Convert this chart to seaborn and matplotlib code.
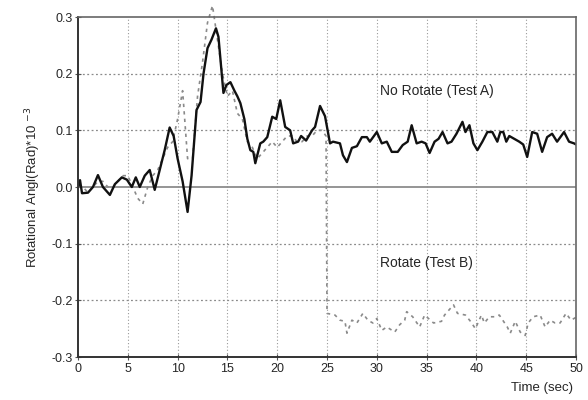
import numpy as np
import pandas as pd
import matplotlib
matplotlib.use("Agg")
import matplotlib.pyplot as plt
import seaborn as sns

# Test A: no rotation
time_a = [
    0.0, 0.2, 0.4, 1.0, 1.5, 2.0, 2.5, 3.2, 3.7, 4.4,
    4.9, 5.4, 5.8, 6.2, 6.7, 7.2, 7.7, 8.2, 8.7, 9.2,
    9.6, 10.0, 10.5, 11.0, 11.4, 11.9, 12.3, 12.6, 13.0, 13.4,
    13.85, 14.1, 14.6, 14.9, 15.3, 15.7, 16.0, 16.3, 16.7, 17.0,
    17.3, 17.6, 17.8, 18.3, 18.6, 19.0, 19.5, 19.9, 20.3, 20.8,
    21.3, 21.6, 22.1, 22.4, 22.9, 23.5, 23.8, 24.3, 24.8, 25.3,
    25.6, 26.3, 26.6, 27.0, 27.5, 28.0, 28.5, 29.0, 29.3, 30.0,
    30.5, 31.0, 31.5, 32.1, 32.6, 33.1, 33.5, 34.0, 34.5, 34.9,
    35.3, 35.8, 36.2, 36.6, 37.1, 37.5, 38.0, 38.6, 38.9, 39.3,
    39.7, 40.1, 40.6, 41.1, 41.6, 42.1, 42.4, 42.7, 43.0, 43.3,
    43.8, 44.3, 44.7, 45.1, 45.6, 46.1, 46.6, 47.1, 47.6, 48.1,
    48.8, 49.3, 49.8, 50.0,
]
angle_a = [
    0.00, 0.012, -0.011, -0.01, 0.00, 0.021, 0.00, -0.014, 0.005, 0.017,
    0.013, 0.00, 0.017, 0.00, 0.02, 0.03, -0.005, 0.03, 0.065, 0.105,
    0.09, 0.05, 0.01, -0.044, 0.02, 0.136, 0.15, 0.20, 0.245, 0.26,
    0.28, 0.265, 0.166, 0.18, 0.185, 0.17, 0.16, 0.148, 0.12, 0.085,
    0.065, 0.062, 0.042, 0.077, 0.08, 0.088, 0.124, 0.12, 0.153, 0.106,
    0.10, 0.077, 0.08, 0.09, 0.082, 0.10, 0.106, 0.143, 0.125, 0.077,
    0.08, 0.077, 0.056, 0.044, 0.069, 0.072, 0.088, 0.088, 0.08, 0.097,
    0.077, 0.08, 0.062, 0.062, 0.074, 0.08, 0.109, 0.077, 0.08, 0.077,
    0.06, 0.08, 0.085, 0.097, 0.077, 0.08, 0.094, 0.115, 0.097, 0.109,
    0.077, 0.065, 0.08, 0.097, 0.097, 0.08, 0.097, 0.097, 0.08, 0.09,
    0.085, 0.08, 0.075, 0.053, 0.097, 0.094, 0.062, 0.088, 0.094, 0.08,
    0.097, 0.08, 0.077, 0.075,
]

# Test B: rotation starts at 25 s
time_b = [
    0.0, 0.5, 1.0, 1.5, 2.0, 2.5, 3.0, 3.5, 4.0, 4.5,
    5.0, 5.5, 6.0, 6.5, 7.0, 7.5, 8.0, 8.5, 9.0, 9.5,
    10.0, 10.5, 11.0, 11.5, 12.0, 12.5, 13.0, 13.5, 14.0, 14.5,
    15.0, 15.5, 16.0, 16.5, 17.0, 17.5, 18.0, 18.5, 19.0, 19.5,
    20.0, 20.5, 21.0, 21.5, 22.0, 22.5, 23.0, 23.5, 24.0, 24.5,
    24.9, 25.0, 25.8, 26.3, 26.8, 27.0, 27.5, 28.0, 28.6, 29.1,
    29.6, 30.0, 30.5, 31.0, 31.8, 32.3, 32.8, 33.0, 33.6, 34.3,
    34.8, 35.7, 36.5, 36.8, 37.7, 38.1, 38.9, 39.4, 39.9, 40.5,
    40.8, 41.3, 41.8, 42.3, 43.1, 43.4, 43.9, 44.4, 44.9, 45.2,
    45.7, 46.4, 46.9, 47.4, 47.9, 48.4, 49.0, 49.5, 50.0,
]
angle_b = [
    0.00, 0.00, -0.01, 0.00, 0.01, 0.01, 0.00, 0.00, 0.01, 0.02,
    0.02, 0.00, -0.02, -0.03, 0.00, 0.02, 0.03, 0.05, 0.07, 0.08,
    0.12, 0.17, 0.05, 0.05, 0.16, 0.22, 0.29, 0.32, 0.26, 0.20,
    0.16, 0.17, 0.13, 0.12, 0.08, 0.07, 0.05, 0.06, 0.07, 0.08,
    0.07, 0.08, 0.09, 0.09, 0.08, 0.08, 0.09, 0.09, 0.10, 0.10,
    0.09, -0.223, -0.226, -0.235, -0.237, -0.258, -0.235, -0.24, -0.223, -0.235,
    -0.24, -0.232, -0.253, -0.247, -0.256, -0.243, -0.235, -0.22, -0.229, -0.247,
    -0.226, -0.24, -0.237, -0.226, -0.208, -0.223, -0.226, -0.237, -0.25, -0.226,
    -0.24, -0.229, -0.229, -0.226, -0.247, -0.258, -0.237, -0.256, -0.262, -0.24,
    -0.229, -0.226, -0.247, -0.235, -0.24, -0.24, -0.223, -0.235, -0.23,
]

x_ticks = [0, 5, 10, 15, 20, 25, 30, 35, 40, 45, 50]
y_ticks = [-0.3, -0.2, -0.1, 0.0, 0.1, 0.2, 0.3]
y_tick_labels = ["-0.3", "-0.2", "-0.1", "0.0", "0.1", "0.2", "0.3"]

df_a = pd.DataFrame({"t": time_a, "angle": angle_a})
df_b = pd.DataFrame({"t": time_b, "angle": angle_b})

sns.set_style("white")
plt.rcParams["font.family"] = ["Liberation Sans", "DejaVu Sans"]

fig = plt.figure(figsize=(5.88, 4.0), dpi=100)
ax = fig.add_axes([0.1327, 0.1075, 0.8469, 0.85])

# grid
for xv in x_ticks[1:-1]:
    ax.axvline(xv, color="#9a9a9a", lw=0.8, ls=(0, (1, 2)), zorder=0)
for yv in [-0.2, -0.1, 0.1, 0.2]:
    ax.axhline(yv, color="#8a8a8a", lw=0.9, ls=(0, (1.5, 2)), zorder=0)
ax.axhline(0.0, color="#8c8c8c", lw=1.3, zorder=0)

sns.lineplot(data=df_b, x="t", y="angle", ax=ax, color="#8a8a8a", lw=1.2,
             linestyle=(0, (2, 2.5)), sort=False, estimator=None)
ax.lines[-1].set_clip_on(False)
sns.lineplot(data=df_a, x="t", y="angle", ax=ax, color="#111111", lw=1.7,
             sort=False, estimator=None)

ax.set_xlim(0, 50)
ax.set_ylim(-0.3, 0.3)
ax.set_xticks(x_ticks)
ax.set_yticks(y_ticks)
ax.set_yticklabels(y_tick_labels)
ax.tick_params(axis="both", labelsize=9, direction="inout", length=4,
               width=0.8, color="#555555", pad=2, bottom=True, left=True)

for side in ["left", "bottom"]:
    ax.spines[side].set_color("#333333")
    ax.spines[side].set_linewidth(1.4)
for side in ["top", "right"]:
    ax.spines[side].set_color("#666666")
    ax.spines[side].set_linewidth(1.2)

ax.set_xlabel("")
ax.set_ylabel(r"Rotational Angl(Rad)*10 $^{-3}$", fontsize=9.5, labelpad=6)
fig.text(0.975, 0.03, "Time (sec)", ha="right", va="center", fontsize=9.5)

ax.text(30.3, 0.17, "No Rotate (Test A)", fontsize=10, ha="left", va="center")
ax.text(30.3, -0.135, "Rotate (Test B)", fontsize=10, ha="left", va="center")

fig.savefig("out.png", dpi=100)
